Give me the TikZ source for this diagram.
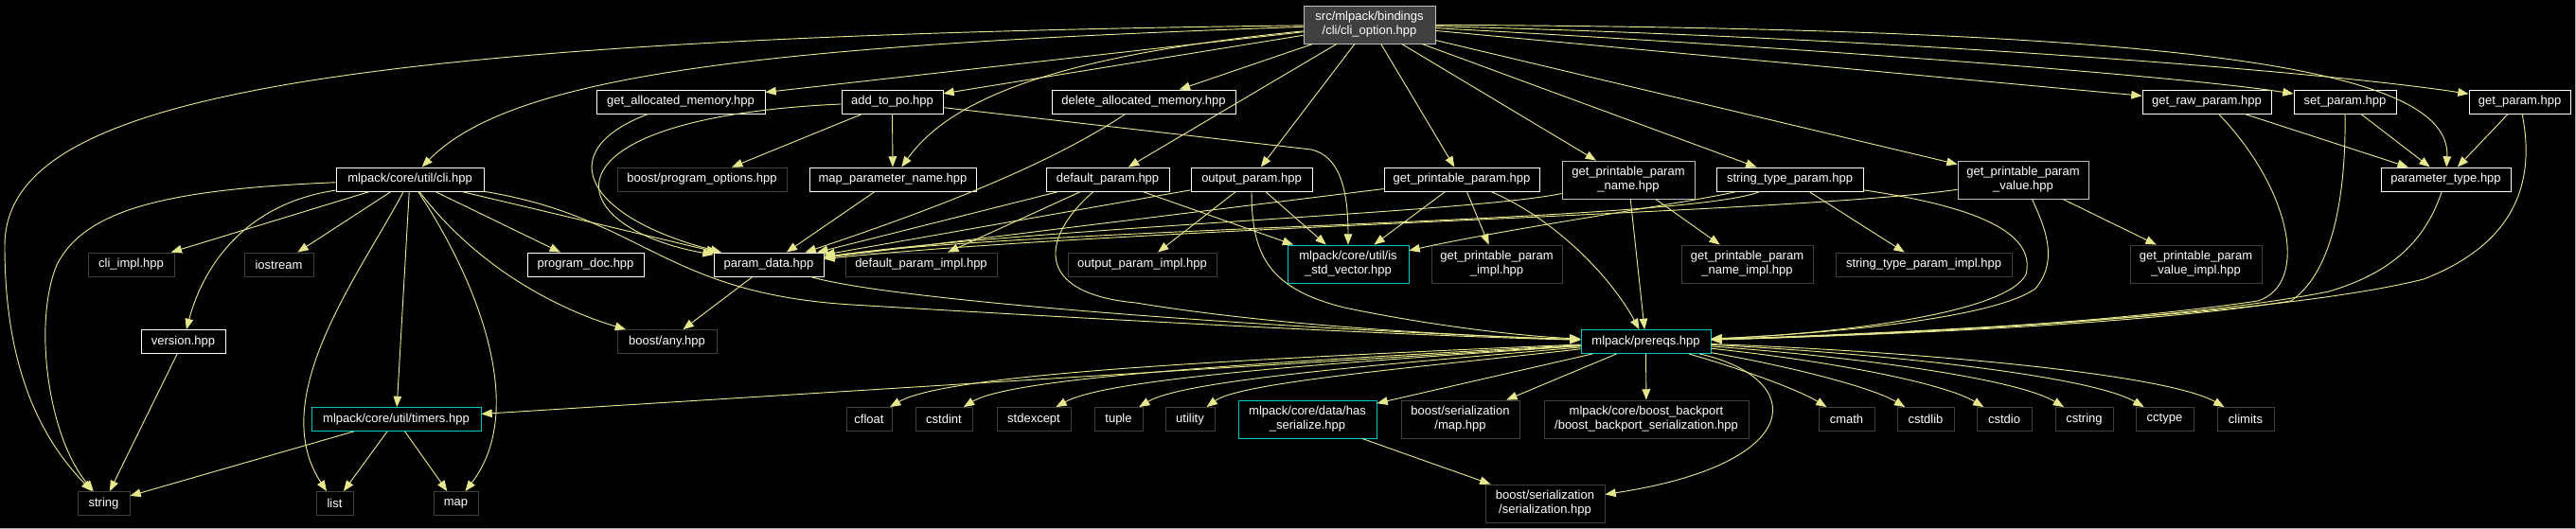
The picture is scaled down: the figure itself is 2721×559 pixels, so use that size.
\documentclass[tikz,border=0pt]{standalone}
\usepackage{fontspec}
\setmainfont{Liberation Sans}
\usetikzlibrary{arrows.meta}
\definecolor{edgec}{RGB}{230,230,140}
\definecolor{extc}{RGB}{64,64,64}
\definecolor{cyc}{RGB}{0,200,200}
\definecolor{rootfill}{RGB}{64,64,64}
\definecolor{lgc}{RGB}{191,191,191}
\begin{document}
\begin{tikzpicture}[x=0.75pt,y=-0.75pt,
  nbox/.style={draw, fill=black, text=white, line width=0.6pt, inner sep=0pt, align=center,
    font=\fontsize{9.75}{11.25}\selectfont, minimum height=18.75pt},
  ntall/.style={minimum height=30pt},
  bw/.style={minimum width=#1*0.75pt},
  ndoc/.style={nbox, draw=white},
  nldoc/.style={nbox, draw=lgc},
  nextr/.style={nbox, draw=extc},
  ncyan/.style={nbox, draw=cyc},
  nroot/.style={nbox, draw=lgc, fill=rootfill, minimum height=30pt},
  conn/.style={draw=edgec, line width=0.7pt, -{Triangle[length=8.5pt,width=6.5pt]}}
]
\useasboundingbox (0,0) rectangle (2721,559);
\fill[black] (0,0) rectangle (2721,559);
\draw[gray!60, line width=0.75pt] (0,558.5) -- (2720.5,558.5) -- (2720.5,0);

% row 0
\node[nroot,bw=139] (root) at (1446.5,26) {src/mlpack/bindings\\/cli/cli\_option.hpp};
% row 1
\node[ndoc,bw=178] (gam) at (719,107.5) {get\_allocated\_memory.hpp};
\node[ndoc,bw=107] (atp) at (942.5,107.5) {add\_to\_po.hpp};
\node[ndoc,bw=194] (dam) at (1208,107.5) {delete\_allocated\_memory.hpp};
\node[ndoc,bw=136] (grp) at (2331,107.5) {get\_raw\_param.hpp};
\node[ndoc,bw=108] (sp) at (2477,107.5) {set\_param.hpp};
\node[ndoc,bw=107] (gp) at (2661.5,107.5) {get\_param.hpp};
% row 2
\node[ndoc,bw=156] (cli) at (433,189.5) {mlpack/core/util/cli.hpp};
\node[nextr,bw=179] (bpo) at (741.5,189.5) {boost/program\_options.hpp};
\node[ndoc,bw=176] (mpn) at (943,189.5) {map\_parameter\_name.hpp};
\node[ndoc,bw=130] (dp) at (1170,189.5) {default\_param.hpp};
\node[ndoc,bw=128] (op) at (1322,189.5) {output\_param.hpp};
\node[ndoc,bw=164] (gpp) at (1544,189.5) {get\_printable\_param.hpp};
\node[nldoc,ntall,bw=140] (gppn) at (1720,190) {get\_printable\_param\\\_name.hpp};
\node[ndoc,bw=155] (stp) at (1890.5,189.5) {string\_type\_param.hpp};
\node[nldoc,ntall,bw=138] (gppv) at (2137,190) {get\_printable\_param\\\_value.hpp};
\node[ndoc,bw=137] (pt) at (2583.5,189.5) {parameter\_type.hpp};
% row 3
\node[nextr,bw=91] (climpl) at (138.5,279.5) {cli\_impl.hpp};
\node[nextr,bw=73] (ios) at (294.5,279.5) {iostream};
\node[ndoc,bw=123] (pdoc) at (618.5,279.5) {program\_doc.hpp};
\node[ndoc,bw=116] (pdata) at (812,279.5) {param\_data.hpp};
\node[nextr,bw=160] (dpi) at (973,279.5) {default\_param\_impl.hpp};
\node[nextr,bw=157] (opi) at (1206.5,279.5) {output\_param\_impl.hpp};
\node[ncyan,ntall,bw=128] (isv) at (1424,279) {mlpack/core/util/is\\\_std\_vector.hpp};
\node[nextr,ntall,bw=138] (gppi) at (1581,279) {get\_printable\_param\\\_impl.hpp};
\node[nextr,ntall,bw=139] (gppni) at (1845.5,279) {get\_printable\_param\\\_name\_impl.hpp};
\node[nextr,bw=186] (stpi) at (2032,279.5) {string\_type\_param\_impl.hpp};
\node[nextr,ntall,bw=139] (gppvi) at (2319.5,279) {get\_printable\_param\\\_value\_impl.hpp};
% row 4
\node[ndoc,bw=89] (ver) at (193.5,361) {version.hpp};
\node[nextr,bw=105] (bany) at (704.5,361) {boost/any.hpp};
\node[ncyan,bw=137] (prq) at (1738.5,361) {mlpack/prereqs.hpp};
% row 5
\node[ncyan,bw=179] (tim) at (418.5,443) {mlpack/core/util/timers.hpp};
\node[nextr,bw=48] (cfl) at (918,443) {cfloat};
\node[nextr,bw=60] (cint) at (997,443) {cstdint};
\node[nextr,bw=78] (cexc) at (1092,443) {stdexcept};
\node[nextr,bw=51] (tup) at (1181.5,443) {tuple};
\node[nextr,bw=52] (util) at (1257,443) {utility};
\node[ncyan,ntall,bw=146] (hser) at (1381,443) {mlpack/core/data/has\\\_serialize.hpp};
\node[nextr,ntall,bw=125] (bsmap) at (1542.5,443) {boost/serialization\\/map.hpp};
\node[nextr,ntall,bw=216] (bbp) at (1739,443) {mlpack/core/boost\_backport\\/boost\_backport\_serialization.hpp};
\node[nextr,bw=59] (cmath) at (1950.5,443) {cmath};
\node[nextr,bw=60] (cstdlib) at (2034,443) {cstdlib};
\node[nextr,bw=58] (cstdio) at (2117,443) {cstdio};
\node[nextr,bw=61] (cstr) at (2201.5,443) {cstring};
\node[nextr,bw=61] (cctype) at (2286.5,443) {cctype};
\node[nextr,bw=60] (clim) at (2372,443) {climits};
% row 6
\node[nextr,bw=55] (str) at (109.5,532) {string};
\node[nextr,bw=39] (lst) at (353.5,532) {list};
\node[nextr,bw=47] (mp) at (481.5,532) {map};
\node[nextr,ntall,bw=126] (bser) at (1632,532) {boost/serialization\\/serialization.hpp};

% ---- edges from root
\draw[conn] (root) .. controls (300,40) and (5,110) .. (5,260) .. controls (5,400) and (50,470) .. (str);
\draw[conn] (root) .. controls (800,48) and (540,80) .. (cli);
\draw[conn] (root) -- (gam);
\draw[conn] (root) -- (atp);
\draw[conn] (root) .. controls (1100,60) and (1000,110) .. (mpn);
\draw[conn] (root) -- (dam);
\draw[conn] (root) -- (dp);
\draw[conn] (root) -- (op);
\draw[conn] (root) -- (gpp);
\draw[conn] (root) -- (gppn);
\draw[conn] (root) -- (stp);
\draw[conn] (root) -- (gppv);
\draw[conn] (root) -- (grp);
\draw[conn] (root) .. controls (1900,50) and (2300,80) .. (sp);
\draw[conn] (root) .. controls (2000,40) and (2450,75) .. (gp);
\draw[conn] (root) .. controls (2300,30) and (2590,70) .. (pt);

% ---- cli.hpp
\draw[conn] (cli) -- (climpl);
\draw[conn] (cli) -- (ios);
\draw[conn] (cli) .. controls (180,200) and (90,220) .. (60,280) .. controls (35,340) and (50,460) .. (str);
\draw[conn] (cli) .. controls (260,215) and (215,280) .. (ver);
\draw[conn] (cli) -- (tim);
\draw[conn] (cli) .. controls (380,290) and (280,420) .. (lst);
\draw[conn] (cli) .. controls (500,290) and (560,430) .. (mp);
\draw[conn] (cli) .. controls (510,290) and (600,330) .. (bany);
\draw[conn] (cli) -- (pdoc);
\draw[conn] (cli) -- (pdata);
\draw[conn] (cli) .. controls (680,230) and (700,310) .. (900,322) .. controls (1200,340) and (1500,355) .. (prq);

% ---- row 1 sources
\draw[conn] (gam) .. controls (580,160) and (620,230) .. (pdata);
\draw[conn] (atp) -- (bpo);
\draw[conn] (atp) -- (mpn);
\draw[conn] (atp) .. controls (560,125) and (590,240) .. (pdata);
\draw[conn] (atp) -- (1385,158) .. controls (1415,165) and (1424,200) .. (isv);
\draw[conn] (dam) .. controls (1100,180) and (960,230) .. (pdata);
\draw[conn] (grp) -- (pt);
\draw[conn] (grp) .. controls (2420,200) and (2440,300) .. (2385,318) .. controls (2200,345) and (1950,355) .. (prq);
\draw[conn] (sp) -- (pt);
\draw[conn] (sp) .. controls (2478,220) and (2460,290) .. (2420,318) .. controls (2250,345) and (1950,355) .. (prq);
\draw[conn] (gp) -- (pt);
\draw[conn] (gp) .. controls (2680,200) and (2650,260) .. (2560,295) .. controls (2400,335) and (2000,352) .. (prq);

% ---- row 2 sources
\draw[conn] (mpn) -- (pdata);
\draw[conn] (dp) -- (pdata);
\draw[conn] (dp) -- (dpi);
\draw[conn] (dp) -- (isv);
\draw[conn] (dp) .. controls (1100,250) and (1090,310) .. (1200,320) .. controls (1350,345) and (1550,355) .. (prq);
\draw[conn] (op) -- (pdata);
\draw[conn] (op) -- (opi);
\draw[conn] (op) -- (isv);
\draw[conn] (op) .. controls (1322,270) and (1340,305) .. (1420,325) .. controls (1500,342) and (1600,355) .. (prq);
\draw[conn] (gpp) -- (pdata);
\draw[conn] (gpp) -- (isv);
\draw[conn] (gpp) -- (gppi);
\draw[conn] (gpp) .. controls (1640,230) and (1700,290) .. (prq);
\draw[conn] (gppn) .. controls (1550,225) and (1100,240) .. (pdata);
\draw[conn] (gppn) -- (gppni);
\draw[conn] (gppn) -- (prq);
\draw[conn] (stp) .. controls (1780,235) and (1100,240) .. (pdata);
\draw[conn] (stp) .. controls (1780,215) and (1600,240) .. (isv);
\draw[conn] (stp) -- (stpi);
\draw[conn] (stp) .. controls (2100,220) and (2150,250) .. (2140,290) .. controls (2120,330) and (1950,352) .. (prq);
\draw[conn] (gppv) .. controls (1900,225) and (1200,240) .. (pdata);
\draw[conn] (gppv) -- (gppvi);
\draw[conn] (gppv) .. controls (2160,240) and (2175,275) .. (2150,305) .. controls (2100,340) and (1900,354) .. (prq);
\draw[conn] (pt) .. controls (2560,260) and (2520,290) .. (2460,308) .. controls (2300,340) and (2000,353) .. (prq);

% ---- row 3/4 sources
\draw[conn] (pdata) -- (bany);
\draw[conn] (pdata) .. controls (950,320) and (1400,350) .. (prq);
\draw[conn] (ver) -- (str);

% ---- prereqs
\draw[conn] (prq) -- (tim);
\draw[conn] (prq) .. controls (1300,380) and (1000,395) .. (cfl);
\draw[conn] (prq) .. controls (1350,382) and (1070,398) .. (cint);
\draw[conn] (prq) .. controls (1400,384) and (1170,400) .. (cexc);
\draw[conn] (prq) .. controls (1450,386) and (1250,402) .. (tup);
\draw[conn] (prq) .. controls (1500,388) and (1310,404) .. (util);
\draw[conn] (prq) -- (hser);
\draw[conn] (prq) -- (bsmap);
\draw[conn] (prq) -- (bbp);
\draw[conn] (prq) .. controls (1840,390) and (1900,412) .. (cmath);
\draw[conn] (prq) .. controls (1880,385) and (1975,408) .. (cstdlib);
\draw[conn] (prq) .. controls (1920,380) and (2050,403) .. (cstdio);
\draw[conn] (prq) .. controls (1960,377) and (2130,400) .. (cstr);
\draw[conn] (prq) .. controls (2000,374) and (2210,398) .. (cctype);
\draw[conn] (prq) .. controls (2040,372) and (2290,396) .. (clim);
\draw[conn] (prq) .. controls (1910,400) and (1910,490) .. (bser);
\draw[conn] (hser) -- (bser);

% ---- timers
\draw[conn] (tim) -- (str);
\draw[conn] (tim) -- (lst);
\draw[conn] (tim) -- (mp);
\end{tikzpicture}
\end{document}
